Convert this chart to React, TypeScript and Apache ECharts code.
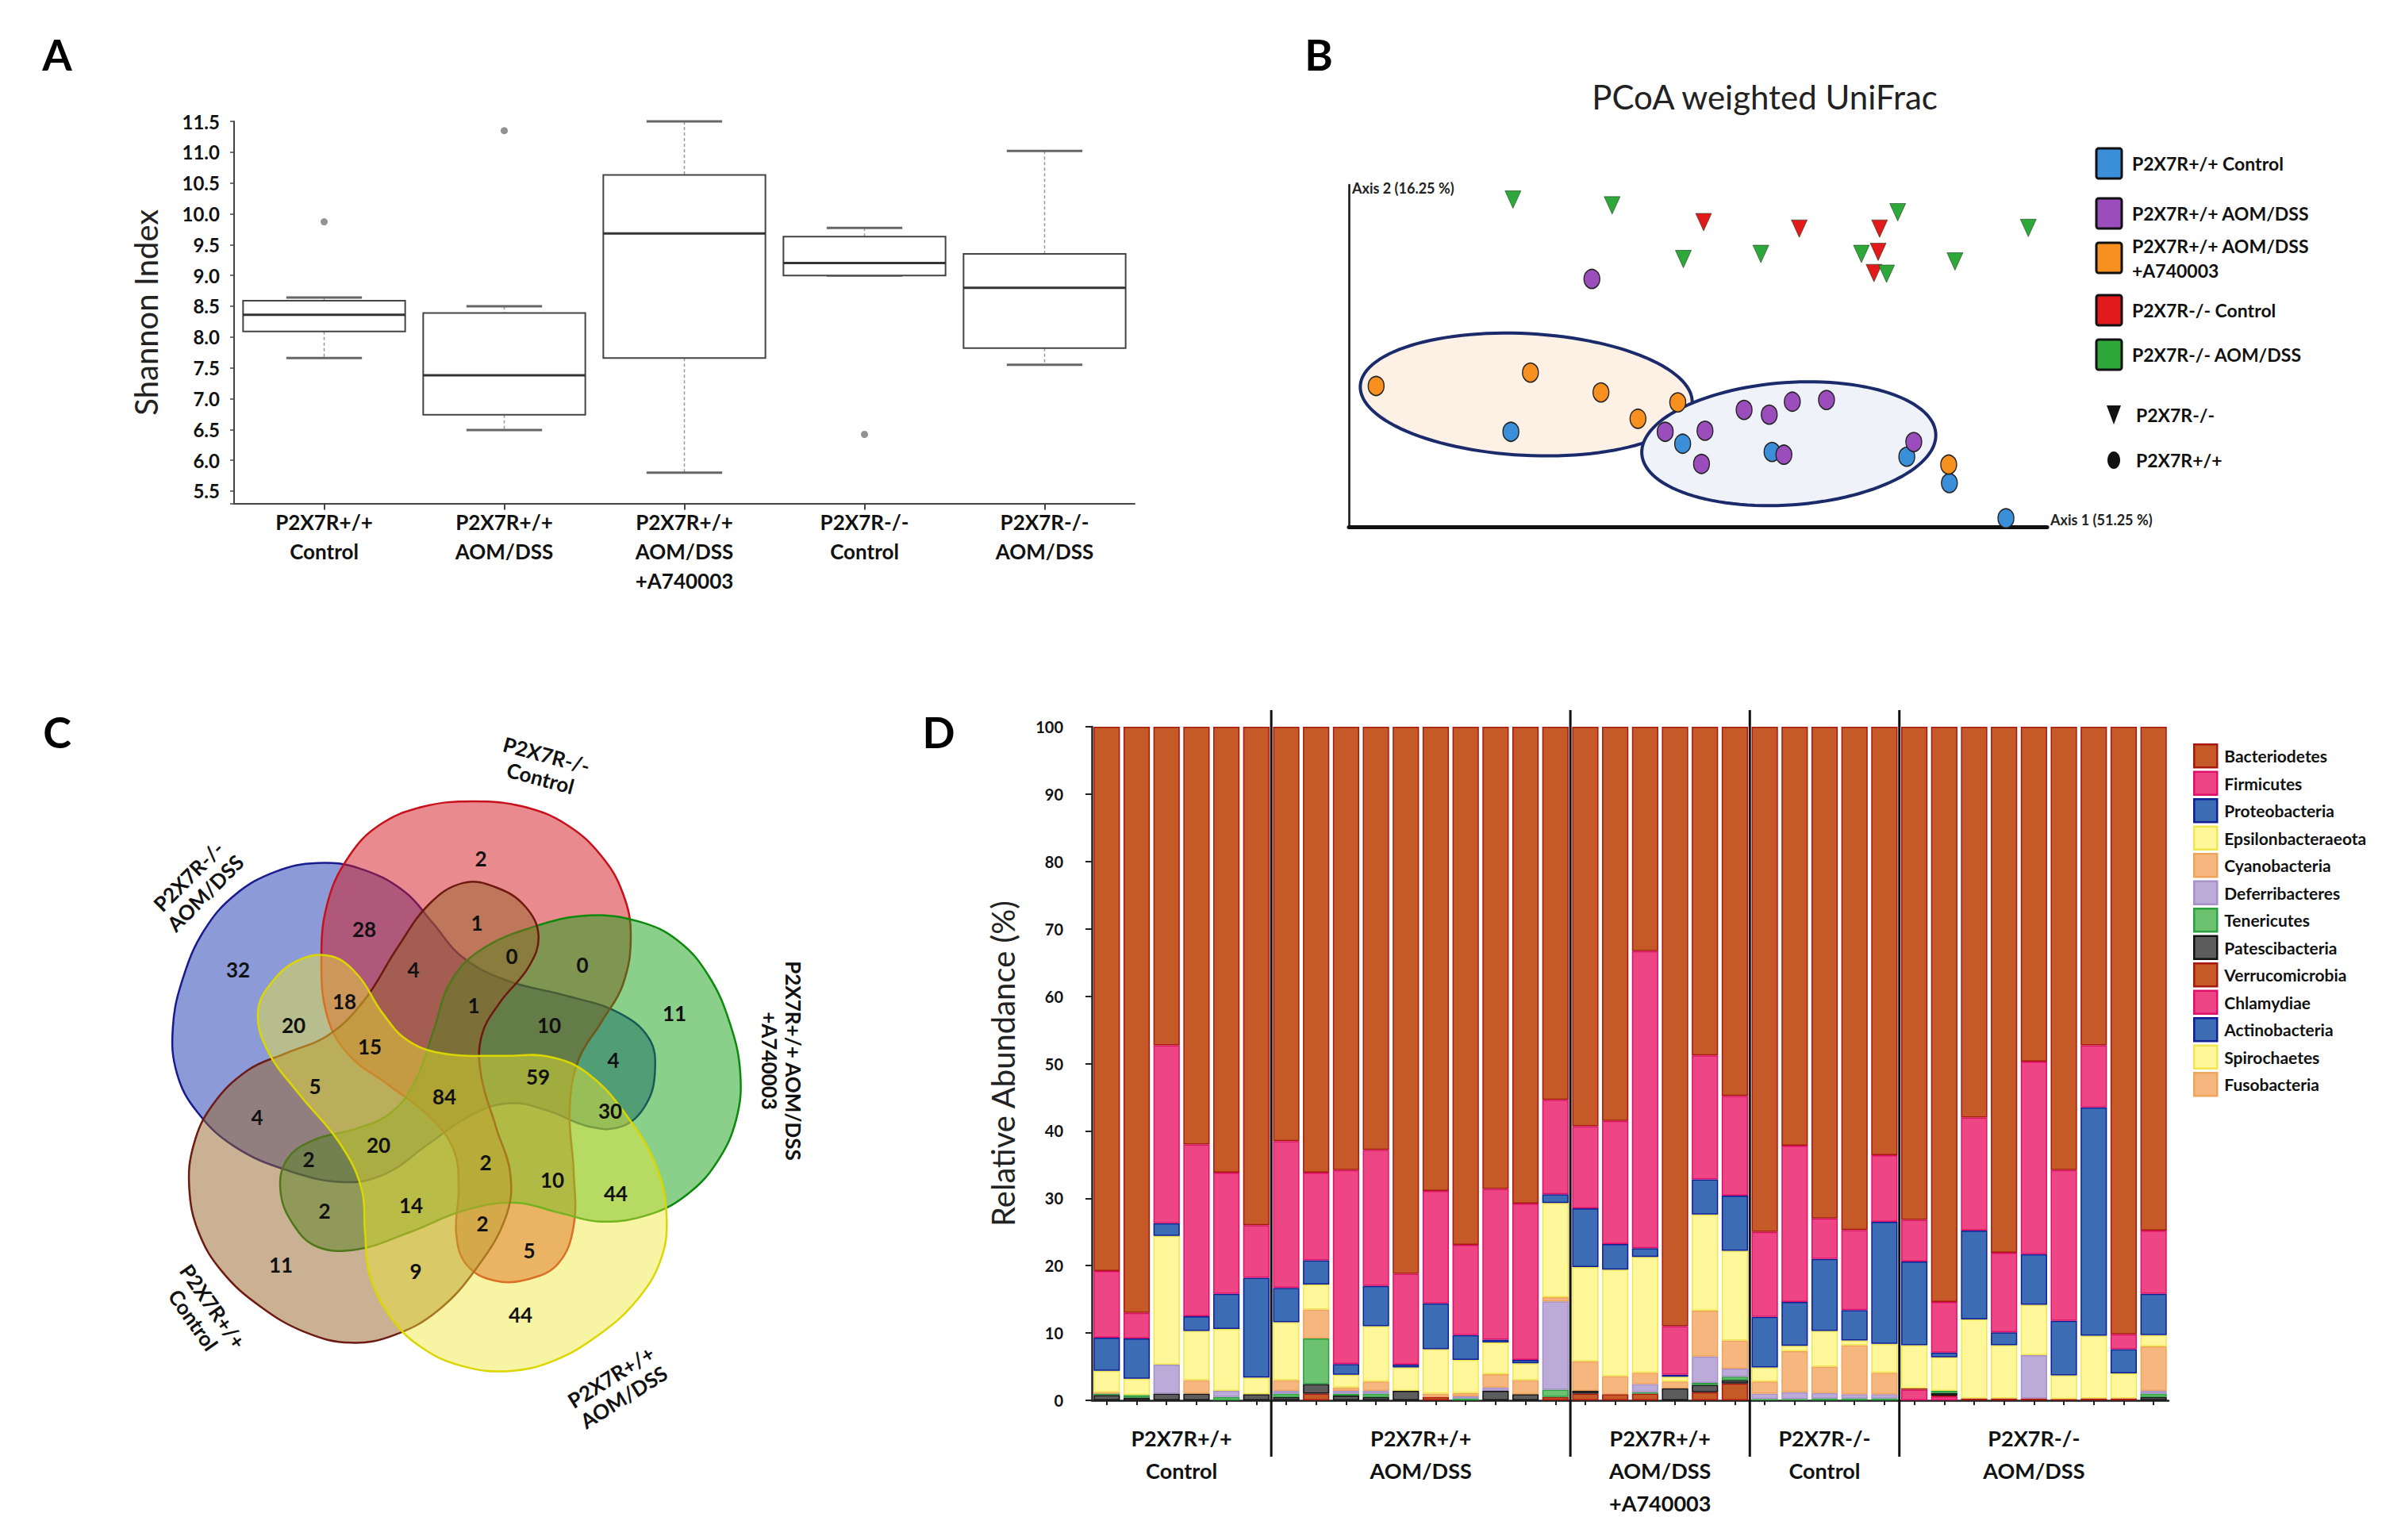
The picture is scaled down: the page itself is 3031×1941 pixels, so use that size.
import React, { useEffect, useRef } from "react";
import * as echarts from "echarts";

const FONT = "Lato, 'Open Sans', 'DejaVu Sans', sans-serif";

// ---------- Panel A : Shannon index ----------
const groupLabels = [
  "P2X7R+/+\nControl",
  "P2X7R+/+\nAOM/DSS",
  "P2X7R+/+\nAOM/DSS\n+A740003",
  "P2X7R-/-\nControl",
  "P2X7R-/-\nAOM/DSS",
];
// [lower whisker, Q1, median, Q3, upper whisker]
const shannonStats = [
  [7.66, 8.09, 8.36, 8.59, 8.64],
  [6.49, 6.74, 7.38, 8.39, 8.5],
  [5.8, 7.66, 9.68, 10.63, 11.5],
  [9.0, 9.0, 9.2, 9.63, 9.77],
  [7.55, 7.82, 8.8, 9.35, 11.02],
];
const shannonOutliers = [
  [0, 9.87],
  [1, 11.35],
  [3, 6.42],
];

// ---------- Panel B : PCoA ----------
const pcoaGroups = [
  "P2X7R+/+ Control",
  "P2X7R+/+ AOM/DSS",
  "P2X7R+/+ AOM/DSS\n+A740003",
  "P2X7R-/- Control",
  "P2X7R-/- AOM/DSS",
];
const pcoaColors = ["#3b8ed8", "#9b4dbb", "#f7901e", "#e31a1c", "#2ea83a"];
const pcoaWtControl = [[23.2, 27.8], [47.8, 24.3], [60.6, 21.9], [79.9, 20.5], [86.0, 12.8], [94.1, 2.5]];
const pcoaWtAomDss = [[34.8, 72.5], [56.6, 34.2], [60.2, 32.8], [63.5, 36.6], [68.4, 37.1], [51.0, 28.1], [45.3, 27.8], [50.5, 18.4], [62.3, 21.1], [80.9, 24.8]];
const pcoaWtA740003 = [[3.9, 41.2], [26.0, 45.1], [36.1, 39.3], [47.1, 36.4], [41.4, 31.6], [85.9, 18.2]];
const pcoaKoControl = [[50.8, 89.1], [64.5, 87.2], [76.0, 87.2], [75.8, 80.4], [75.2, 74.2]];
const pcoaKoAomDss = [[23.5, 95.7], [37.7, 94.0], [78.6, 92.0], [97.3, 87.4], [47.9, 78.3], [59.0, 79.8], [73.4, 79.8], [86.8, 77.6], [77.0, 74.0]];
const ellipseCenters = [[25.4, 38.7], [63.0, 24.3]];
const ellipseRadii = [[23.8, 17.8], [21.1, 17.9]];
const ellipseTilt = [3, -4];
const ellipseFill = ["#fdf0e4", "#eff2f9"];

// ---------- Panel C : Venn ----------
const vennSetLabels = [
  "P2X7R-/-\nControl",
  "P2X7R+/+ AOM/DSS\n+A740003",
  "P2X7R+/+\nAOM/DSS",
  "P2X7R+/+\nControl",
  "P2X7R-/-\nAOM/DSS",
];
const vennCounts = [2, 28, 1, 32, 4, 0, 0, 18, 1, 20, 10, 11, 15, 4, 59, 5, 84, 30, 4, 20, 2, 2, 10, 44, 2, 14, 2, 5, 11, 9, 44];

// ---------- Panel D : relative abundance ----------
const phyla = [
  "Bacteriodetes", "Firmicutes", "Proteobacteria", "Epsilonbacteraeota", "Cyanobacteria",
  "Deferribacteres", "Tenericutes", "Patescibacteria", "Verrucomicrobia", "Chlamydiae",
  "Actinobacteria", "Spirochaetes", "Fusobacteria",
];
const phylaFill = ["#c55a28", "#ee4585", "#3b6cb4", "#fff79a", "#f6b77e", "#bcaad8", "#6cc26e", "#5c5c5c", "#c55a28", "#ee4585", "#3b6cb4", "#fff79a", "#f6b77e"];
const phylaBorder = ["#a8180e", "#e0106a", "#101e96", "#f2e650", "#f0a35a", "#a890c8", "#2aa040", "#111111", "#a8180e", "#e0106a", "#101e96", "#f2e650", "#f0a35a"];

const bacteroidetes = [80.8, 87.0, 47.3, 62.0, 66.2, 74.0, 61.5, 66.2, 65.8, 62.8, 81.2, 68.9, 76.9, 68.6, 70.8, 55.4, 59.3, 58.5, 33.3, 89.0, 48.8, 54.8, 75.0, 62.2, 73.0, 74.7, 63.6, 73.2, 85.4, 58.0, 78.1, 49.7, 65.8, 47.3, 90.2, 74.8];
const firmicutes = [9.9, 3.8, 26.4, 25.5, 18.0, 7.8, 21.8, 13.0, 28.8, 20.2, 13.5, 16.7, 13.4, 22.4, 23.2, 14.0, 12.2, 18.3, 44.1, 7.2, 18.4, 14.8, 12.6, 23.2, 6.0, 11.9, 9.9, 6.2, 7.5, 16.8, 11.8, 28.6, 22.4, 9.2, 2.2, 9.4];
const proteobacteria = [4.9, 6.0, 1.9, 2.2, 5.2, 14.8, 5.1, 3.6, 1.6, 6.0, 0.4, 6.8, 3.7, 0.4, 0.5, 1.3, 8.7, 3.8, 1.3, 0.3, 5.2, 8.2, 7.5, 6.5, 10.7, 4.5, 18.1, 12.4, 0.7, 13.2, 1.9, 7.5, 8.1, 33.9, 3.6, 6.1];
const epsilonbacteraeota = [3.2, 2.4, 19.1, 7.3, 9.2, 2.5, 8.6, 3.7, 1.9, 8.2, 3.5, 6.6, 4.9, 4.7, 2.5, 14.0, 14.0, 15.8, 17.2, 0.7, 14.3, 13.3, 2.1, 0.8, 5.3, 0.7, 4.3, 6.4, 5.0, 11.7, 7.9, 7.5, 3.5, 9.3, 3.7, 1.7];
const cyanobacteria = [0.2, 0, 0, 2.0, 0, 0, 1.6, 4.3, 0.5, 1.4, 0, 0.5, 0.5, 2.0, 2.1, 0.6, 4.4, 2.7, 1.7, 1.0, 6.8, 4.2, 1.8, 6.1, 3.9, 7.3, 3.2, 0, 0, 0, 0, 0, 0, 0, 0, 6.6];
const deferribacteres = [0, 0, 4.3, 0, 0.9, 0, 0.4, 0, 0.4, 0.4, 0, 0, 0.3, 0.5, 0, 13.1, 0, 0, 1.2, 0, 3.9, 1.2, 0.8, 1.0, 0.8, 0.6, 0.6, 0, 0, 0, 0, 6.4, 0, 0, 0, 0.4];
const tenericutes = [0.2, 0.4, 0, 0, 0.5, 0, 0.5, 6.8, 0.3, 0.5, 0, 0, 0.3, 0, 0, 1.1, 0, 0, 0.2, 0, 0.3, 0.5, 0.2, 0.2, 0.3, 0.3, 0.3, 0, 0.3, 0, 0, 0, 0, 0, 0, 0.5];
const patescibacteria = [0.8, 0.4, 1.0, 1.0, 0, 0.9, 0.5, 1.4, 0.7, 0.5, 1.4, 0, 0, 1.4, 0.9, 0, 0.4, 0, 0, 1.8, 1.1, 0.5, 0, 0, 0, 0, 0, 0, 0.4, 0, 0, 0, 0, 0, 0, 0.5];
const verrucomicrobia = [0, 0, 0, 0, 0, 0, 0, 1.0, 0, 0, 0, 0.5, 0, 0, 0, 0.5, 1.0, 0.9, 1.0, 0, 1.2, 2.5, 0, 0, 0, 0, 0, 0.2, 0.1, 0.3, 0.3, 0.3, 0.2, 0.3, 0.3, 0];
const chlamydiae = [0, 0, 0, 0, 0, 0, 0, 0, 0, 0, 0, 0, 0, 0, 0, 0, 0, 0, 0, 0, 0, 0, 0, 0, 0, 0, 0, 1.6, 0.6, 0, 0, 0, 0, 0, 0, 0];
const actinobacteria = [0, 0, 0, 0, 0, 0, 0, 0, 0, 0, 0, 0, 0, 0, 0, 0, 0, 0, 0, 0, 0, 0, 0, 0, 0, 0, 0, 0, 0, 0, 0, 0, 0, 0, 0, 0];
const spirochaetes = [0, 0, 0, 0, 0, 0, 0, 0, 0, 0, 0, 0, 0, 0, 0, 0, 0, 0, 0, 0, 0, 0, 0, 0, 0, 0, 0, 0, 0, 0, 0, 0, 0, 0, 0, 0];
const fusobacteria = [0, 0, 0, 0, 0, 0, 0, 0, 0, 0, 0, 0, 0, 0, 0, 0, 0, 0, 0, 0, 0, 0, 0, 0, 0, 0, 0, 0, 0, 0, 0, 0, 0, 0, 0, 0];
const phylaValues = [bacteroidetes, firmicutes, proteobacteria, epsilonbacteraeota, cyanobacteria, deferribacteres, tenericutes, patescibacteria, verrucomicrobia, chlamydiae, actinobacteria, spirochaetes, fusobacteria];
const sampleIds = [
  "C1", "C2", "C3", "C4", "C5", "C6",
  "A1", "A2", "A3", "A4", "A5", "A6", "A7", "A8", "A9", "A10",
  "T1", "T2", "T3", "T4", "T5", "T6",
  "K1", "K2", "K3", "K4", "K5",
  "KA1", "KA2", "KA3", "KA4", "KA5", "KA6", "KA7", "KA8", "KA9",
];
const groupSpans = [[0, 5], [6, 15], [16, 21], [22, 26], [27, 35]];
const groupSeparatorsAfter = [5, 15, 21, 26];

// ---------- layout helpers (positions only) ----------
// Venn sets in order: red (-/- Control), green (+/+ AOM/DSS +A740003), yellow (+/+ AOM/DSS), brown (+/+ Control), blue (-/- AOM/DSS)
const vennCenter = [566, 1372];
const vennRotation = [0, 72, 144, 216, 288];
const vennFill = ["rgba(212,22,30,0.5)", "rgba(22,160,22,0.5)", "rgba(238,230,50,0.45)", "rgba(150,100,40,0.5)", "rgba(25,55,175,0.5)"];
const vennStroke = ["#c8101a", "#0d8a0d", "#dcd600", "#6e1a10", "#1a1a90"];
const vennDrawOrder = [4, 0, 1, 3, 2];
const vennOutline = [[413, 1137], [440, 1079], [478, 1040], [532, 1017], [597, 1010], [661, 1017], [715, 1040], [758, 1079], [785, 1126], [795, 1179], [785, 1241], [758, 1288], [729, 1336], [718, 1398], [723, 1477], [723, 1545], [704, 1592], [667, 1612], [623, 1614], [588, 1594], [575, 1555], [578, 1498], [572, 1450], [543, 1409], [489, 1367], [440, 1330], [413, 1283], [405, 1210]];
const vennCountPos = [[606, 1082], [459, 1171], [601, 1163], [300, 1222], [521, 1222], [645, 1205], [734, 1216], [434, 1262], [597, 1267], [370, 1292], [692, 1292], [850, 1277], [466, 1319], [773, 1336], [678, 1357], [397, 1369], [560, 1382], [769, 1400], [324, 1408], [477, 1443], [389, 1461], [612, 1465], [696, 1487], [776, 1504], [409, 1526], [518, 1519], [608, 1542], [667, 1576], [354, 1594], [524, 1602], [656, 1657]];
const vennLabelPos = [[685, 966], [985, 1337], [778, 1748], [256, 1655], [248, 1115]];
const vennLabelRot = [-15, -90, 32, -55, 45];

function rotate(pts: number[][], deg: number) {
  const a = (deg * Math.PI) / 180;
  const [cx, cy] = vennCenter;
  return pts.map(([x, y]) => {
    const dx = x - cx, dy = y - cy;
    return [cx + dx * Math.cos(a) - dy * Math.sin(a), cy + dx * Math.sin(a) + dy * Math.cos(a)];
  });
}

function buildOption() {
  const graphics: any[] = [];
  // panel letters
  const letters = [["A", 72, 68], ["B", 1662, 68], ["C", 72, 922], ["D", 1183, 922]];
  letters.forEach(([t, x, y]) => {
    graphics.push({ type: "text", x, y, style: { text: t, font: `bold 54px ${FONT}`, fill: "#000", align: "center", verticalAlign: "middle" } });
  });
  // panel B title
  graphics.push({ type: "text", x: 2224, y: 122, style: { text: "PCoA weighted UniFrac", font: `42px ${FONT}`, fill: "#222", align: "center", verticalAlign: "middle" } });
  // panel B legend
  const legY = [206, 269, 325, 391, 447];
  pcoaGroups.forEach((g, i) => {
    graphics.push({ type: "rect", shape: { x: 2642, y: legY[i] - 19, width: 32, height: 38, r: 3 }, style: { fill: pcoaColors[i], stroke: "#111", lineWidth: 3 } });
    graphics.push({ type: "text", x: 2687, y: legY[i], style: { text: g, font: `bold 23px ${FONT}`, fill: "#111", align: "left", verticalAlign: "middle", lineHeight: 31 } });
  });
  graphics.push({ type: "polygon", shape: { points: [[2655, 511], [2673, 511], [2664, 535]] }, style: { fill: "#111" } });
  graphics.push({ type: "text", x: 2692, y: 523, style: { text: "P2X7R-/-", font: `bold 23px ${FONT}`, fill: "#111", align: "left", verticalAlign: "middle" } });
  graphics.push({ type: "ellipse", shape: { cx: 2664, cy: 580, rx: 8, ry: 11 }, style: { fill: "#111" } });
  graphics.push({ type: "text", x: 2692, y: 580, style: { text: "P2X7R+/+", font: `bold 23px ${FONT}`, fill: "#111", align: "left", verticalAlign: "middle" } });

  // Venn shapes
  vennDrawOrder.forEach((i, k) => {
    graphics.push({
      type: "polygon",
      shape: { points: rotate(vennOutline, vennRotation[i]), smooth: 0.4 },
      style: { fill: vennFill[i], stroke: vennStroke[i], lineWidth: 2.5 },
      z: 1 + k,
    });
  });
  vennCounts.forEach((c, i) => {
    graphics.push({ type: "text", x: vennCountPos[i][0], y: vennCountPos[i][1], z: 20, style: { text: String(c), font: `bold 26px ${FONT}`, fill: "#111", align: "center", verticalAlign: "middle" } });
  });
  vennSetLabels.forEach((t, i) => {
    graphics.push({
      type: "text",
      x: vennLabelPos[i][0],
      y: vennLabelPos[i][1],
      rotation: (vennLabelRot[i] * Math.PI) / 180,
      z: 20,
      style: { text: t, font: `bold 26px ${FONT}`, fill: "#111", align: "center", verticalAlign: "middle", lineHeight: 30 },
    });
  });

  const axisLabelBase = { fontFamily: FONT, color: "#111", fontWeight: "bold" as const };

  const barSeries = phyla
    .map((name, i) => ({
      name,
      type: "bar",
      xAxisIndex: 2,
      yAxisIndex: 2,
      stack: "abund",
      barCategoryGap: "12%",
      data: phylaValues[i].map((v) => (v === 0 ? "-" : v)),
      itemStyle: { color: phylaFill[i], borderColor: phylaBorder[i], borderWidth: 1.5 },
    }))
    .reverse();

  return {
    animation: false,
    backgroundColor: "#fff",
    textStyle: { fontFamily: FONT },
    grid: [
      { left: 295, top: 153, width: 1135, height: 481.5, outerBoundsMode: "none" },
      { left: 1700, top: 233, width: 880, height: 431, outerBoundsMode: "none" },
      { left: 1376, top: 916, width: 1357, height: 849, outerBoundsMode: "none" },
    ],
    xAxis: [
      {
        gridIndex: 0,
        type: "category",
        data: groupLabels,
        axisLine: { show: true, lineStyle: { color: "#444", width: 2 } },
        axisTick: { show: true, alignWithLabel: true, length: 8, lineStyle: { color: "#444", width: 2 } },
        axisLabel: { ...axisLabelBase, fontSize: 26, lineHeight: 37, margin: 5, interval: 0 },
        splitLine: { show: false },
      },
      {
        gridIndex: 1,
        type: "value",
        min: 0,
        max: 100,
        axisLine: { show: true, lineStyle: { color: "#111", width: 5 } },
        axisTick: { show: false },
        axisLabel: { show: false },
        splitLine: { show: false },
        name: "Axis 1 (51.25 %)",
        nameLocation: "end",
        nameGap: 4,
        nameTextStyle: { fontFamily: FONT, fontWeight: "bold", fontSize: 18, color: "#222", verticalAlign: "bottom" },
      },
      {
        gridIndex: 2,
        type: "category",
        data: sampleIds,
        axisLine: { show: true, lineStyle: { color: "#222", width: 2.5 } },
        axisTick: { show: true, alignWithLabel: true, length: 6, lineStyle: { color: "#222", width: 2 } },
        axisLabel: { show: false },
        splitLine: { show: false },
      },
    ],
    yAxis: [
      {
        gridIndex: 0,
        type: "value",
        min: 5.3,
        max: 11.5,
        splitNumber: 12,
        axisLine: { show: true, lineStyle: { color: "#444", width: 2 } },
        axisTick: { show: true, length: 5, lineStyle: { color: "#444", width: 1.5 } },
        axisLabel: {
          ...axisLabelBase,
          fontSize: 24,
          margin: 18,
          formatter: (v: number) => (Math.abs(v * 2 - Math.round(v * 2)) < 1e-6 ? v.toFixed(1) : ""),
        },
        splitLine: { show: false },
        name: "Shannon Index",
        nameLocation: "middle",
        nameGap: 91,
        nameTextStyle: { fontFamily: FONT, fontSize: 40, color: "#222" },
      },
      {
        gridIndex: 1,
        type: "value",
        min: 0,
        max: 100,
        axisLine: { show: true, lineStyle: { color: "#111", width: 2.5 } },
        axisTick: { show: false },
        axisLabel: { show: false },
        splitLine: { show: false },
        name: "Axis 2 (16.25 %)",
        nameLocation: "end",
        nameGap: -4,
        nameTextStyle: { fontFamily: FONT, fontWeight: "bold", fontSize: 18, color: "#222", align: "left", verticalAlign: "middle", padding: [0, 0, 0, 4] },
      },
      {
        gridIndex: 2,
        type: "value",
        min: 0,
        max: 100,
        interval: 10,
        axisLine: { show: true, lineStyle: { color: "#222", width: 2.5 } },
        axisTick: { show: true, length: 8, lineStyle: { color: "#222", width: 2 } },
        axisLabel: { ...axisLabelBase, fontSize: 20, margin: 36 },
        splitLine: { show: false },
        name: "Relative Abundance (%)",
        nameLocation: "middle",
        nameGap: 92,
        nameTextStyle: { fontFamily: FONT, fontSize: 40, color: "#222" },
      },
    ],
    legend: {
      data: phyla,
      orient: "vertical",
      left: 2764,
      top: 937,
      itemWidth: 29,
      itemHeight: 29,
      itemGap: 3,
      padding: 0,
      selectedMode: false,
      icon: "rect",
      itemStyle: { borderWidth: 2.5 },
      textStyle: { fontFamily: FONT, fontSize: 21, fontWeight: "bold", color: "#111", padding: [0, 0, 0, 4] },
    },
    series: [
      // Panel A box plot
      {
        type: "custom",
        xAxisIndex: 0,
        yAxisIndex: 0,
        data: shannonStats.map((s, i) => [i, ...s]),
        encode: { x: 0, y: [1, 2, 3, 4, 5] },
        renderItem: (params: any, api: any) => {
          const i = api.value(0);
          const v = [api.value(1), api.value(2), api.value(3), api.value(4), api.value(5)];
          const band = api.size([1, 0])[0];
          const half = band * 0.45;
          const cap = band * 0.21;
          const cx = api.coord([i, v[2]])[0];
          const y = v.map((val: number) => api.coord([i, val])[1]);
          return {
            type: "group",
            children: [
              { type: "line", shape: { x1: cx, y1: y[4], x2: cx, y2: y[3] }, style: { stroke: "#999", lineWidth: 1.5, lineDash: [4, 3] } },
              { type: "line", shape: { x1: cx, y1: y[1], x2: cx, y2: y[0] }, style: { stroke: "#999", lineWidth: 1.5, lineDash: [4, 3] } },
              { type: "line", shape: { x1: cx - cap, y1: y[4], x2: cx + cap, y2: y[4] }, style: { stroke: "#666", lineWidth: 3 } },
              { type: "line", shape: { x1: cx - cap, y1: y[0], x2: cx + cap, y2: y[0] }, style: { stroke: "#666", lineWidth: 3 } },
              { type: "rect", shape: { x: cx - half, y: y[3], width: 2 * half, height: y[1] - y[3] }, style: { fill: "#fff", stroke: "#444", lineWidth: 2 } },
              { type: "line", shape: { x1: cx - half, y1: y[2], x2: cx + half, y2: y[2] }, style: { stroke: "#333", lineWidth: 3 } },
            ],
          };
        },
      },
      {
        type: "scatter",
        xAxisIndex: 0,
        yAxisIndex: 0,
        data: shannonOutliers,
        symbol: "circle",
        symbolSize: 9,
        itemStyle: { color: "#777" },
      },
      // Panel B ellipses
      {
        type: "custom",
        xAxisIndex: 1,
        yAxisIndex: 1,
        z: 1,
        clip: false,
        data: ellipseCenters.map((c, i) => [c[0], c[1], ellipseRadii[i][0], ellipseRadii[i][1], ellipseTilt[i]]),
        renderItem: (params: any, api: any) => {
          const c = api.coord([api.value(0), api.value(1)]);
          const s = api.size([api.value(2), api.value(3)]);
          const t = (api.value(4) * Math.PI) / 180;
          const pts: number[][] = [];
          for (let k = 0; k < 120; k++) {
            const a = (k / 120) * 2 * Math.PI;
            const ex = s[0] * Math.cos(a), ey = s[1] * Math.sin(a);
            pts.push([c[0] + ex * Math.cos(t) - ey * Math.sin(t), c[1] + ex * Math.sin(t) + ey * Math.cos(t)]);
          }
          return { type: "polygon", shape: { points: pts }, style: { fill: ellipseFill[params.dataIndex], stroke: "#1b2a6b", lineWidth: 4 } };
        },
      },
      ...[pcoaWtControl, pcoaWtAomDss, pcoaWtA740003].map((d, i) => ({
        type: "scatter",
        name: pcoaGroups[i],
        xAxisIndex: 1,
        yAxisIndex: 1,
        z: 3,
        data: d,
        symbol: "circle",
        symbolSize: [20, 24],
        itemStyle: { color: pcoaColors[i], borderColor: "#222", borderWidth: 1.5, opacity: 1 },
      })),
      ...[pcoaKoControl, pcoaKoAomDss].map((d, i) => ({
        type: "scatter",
        name: pcoaGroups[i + 3],
        xAxisIndex: 1,
        yAxisIndex: 1,
        z: 3,
        data: d,
        symbol: "triangle",
        symbolRotate: 180,
        symbolSize: [20, 22],
        itemStyle: { color: pcoaColors[i + 3], borderColor: "#1a3a1a", borderWidth: 0.6, opacity: 1 },
      })),
      // Panel D bars
      ...barSeries,
      // Panel D group separators
      {
        type: "custom",
        xAxisIndex: 2,
        yAxisIndex: 2,
        clip: false,
        z: 10,
        data: groupSeparatorsAfter.map((i) => [i, 0]),
        renderItem: (params: any, api: any) => {
          const i = api.value(0);
          const x = api.coord([i, 0])[0] + api.size([1, 0])[0] / 2;
          const y0 = api.coord([i, 0])[1];
          const y1 = api.coord([i, 100])[1];
          return { type: "line", shape: { x1: x, y1: y1 - 21, x2: x, y2: y0 + 71 }, style: { stroke: "#111", lineWidth: 3 } };
        },
      },
      // Panel D group labels
      {
        type: "custom",
        xAxisIndex: 2,
        yAxisIndex: 2,
        clip: false,
        z: 10,
        data: groupSpans.map(([s, e]) => [s, e]),
        renderItem: (params: any, api: any) => {
          const s = api.value(0), e = api.value(1);
          const x = (api.coord([s, 0])[0] + api.coord([e, 0])[0]) / 2;
          const y = api.coord([s, 0])[1] + 27;
          return {
            type: "text",
            x,
            y,
            style: { text: groupLabels[params.dataIndex], font: `bold 27px ${FONT}`, fill: "#111", align: "center", verticalAlign: "top", lineHeight: 41 },
          };
        },
      },
    ],
    graphic: { elements: graphics },
  };
}

export default function App() {
  const ref = useRef<HTMLDivElement>(null);
  useEffect(() => {
    if (!ref.current) return;
    const chart = echarts.init(ref.current, null, { renderer: "svg" });
    chart.setOption(buildOption() as any);
    return () => chart.dispose();
  }, []);
  return (
    <div
      ref={ref}
      style={{ position: "fixed", left: 0, top: 0, width: 3031, height: 1941, background: "#fff" }}
    />
  );
}
